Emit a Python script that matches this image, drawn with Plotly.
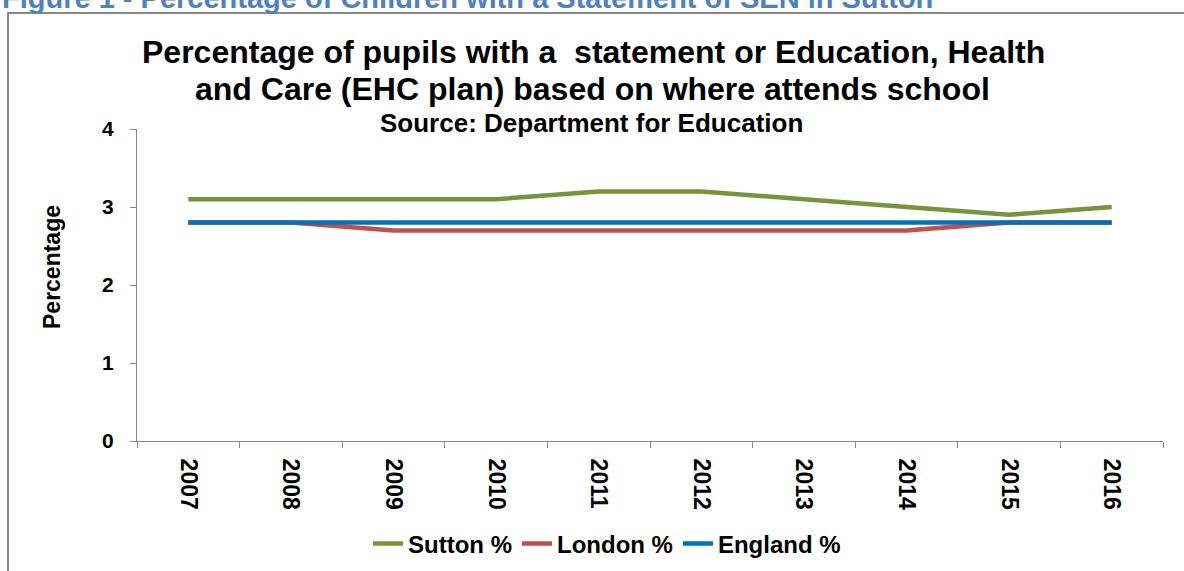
import plotly.graph_objects as go

years = ["2007", "2008", "2009", "2010", "2011", "2012", "2013", "2014", "2015", "2016"]
sutton = [3.1, 3.1, 3.1, 3.1, 3.2, 3.2, 3.1, 3.0, 2.9, 3.0]
london = [2.8, 2.8, 2.7, 2.7, 2.7, 2.7, 2.7, 2.7, 2.8, 2.8]
england = [2.8, 2.8, 2.8, 2.8, 2.8, 2.8, 2.8, 2.8, 2.8, 2.8]
y_ticks = [0, 1, 2, 3, 4]

FONT = "Liberation Sans, Arial, sans-serif"
W, H = 1184, 571
L, R, T, B = 137, 21, 129, 130
PW, PH = W - L - R, H - T - B

def px(x):
    return (x - L) / PW

def py(y):
    return (H - B - y) / PH

fig = go.Figure()
fig.add_trace(go.Scatter(x=years, y=sutton, name="Sutton %", mode="lines",
                         line=dict(color="#77933C", width=4.5)))
fig.add_trace(go.Scatter(x=years, y=london, name="London %", mode="lines",
                         line=dict(color="#C0504D", width=4.5)))
fig.add_trace(go.Scatter(x=years, y=england, name="England %", mode="lines",
                         line=dict(color="#0070C0", width=4.5)))

fig.update_layout(
    width=W, height=H,
    margin=dict(l=L, r=R, t=T, b=B, pad=0, autoexpand=False),
    paper_bgcolor="white", plot_bgcolor="white",
    font=dict(family=FONT, color="black"),
    showlegend=True,
    legend=dict(orientation="h", x=px(607), xanchor="center", y=py(544), yanchor="middle",
                font=dict(size=24, family=FONT, color="black", weight="bold"),
                bgcolor="rgba(0,0,0,0)", itemwidth=30, traceorder="normal"),
)
fig.update_xaxes(
    type="category", tickson="boundaries", ticks="outside", ticklen=6, tickcolor="#898989",
    showline=True, linecolor="#898989", linewidth=1, showgrid=False, zeroline=False,
    tickangle=90, tickfont=dict(size=23, family=FONT, color="black", weight="bold"),
    ticklabelstandoff=12, range=[-0.5, 9.5], automargin=False,
)
fig.update_yaxes(
    range=[0, 4], tickvals=y_ticks, ticks="outside", ticklen=6, tickcolor="#898989",
    showline=True, linecolor="#898989", linewidth=1, showgrid=False, zeroline=False,
    tickfont=dict(size=21, family=FONT, color="black", weight="bold"),
    ticklabelstandoff=12, automargin=False,
)

ann = [
    dict(text="<b>Figure 1 - Percentage of Children with a Statement of SEN in Sutton</b>",
         x=px(0), y=py(-2), xanchor="left", yanchor="middle",
         font=dict(size=29, color="#4F81BD", family=FONT)),
    dict(text="<b>Percentage of pupils with a  statement or Education, Health</b>",
         x=px(593), y=py(52), xanchor="center", yanchor="middle",
         font=dict(size=32, family=FONT)),
    dict(text="<b>and Care (EHC plan) based on where attends school</b>",
         x=px(592), y=py(89), xanchor="center", yanchor="middle",
         font=dict(size=32, family=FONT)),
    dict(text="<b>Source: Department for Education</b>",
         x=px(591), y=py(123), xanchor="center", yanchor="middle",
         font=dict(size=26, family=FONT)),
    dict(text="<b>Percentage</b>", textangle=-90,
         x=px(52), y=py(267), xanchor="center", yanchor="middle",
         font=dict(size=23, family=FONT)),
]
for a in ann:
    a.update(xref="paper", yref="paper", showarrow=False)
fig.update_layout(annotations=ann)

fig.add_shape(type="rect", xref="paper", yref="paper",
              x0=px(8), x1=px(1200), y0=py(600), y1=py(13),
              line=dict(color="#888888", width=2), fillcolor="rgba(0,0,0,0)", layer="below")

fig.write_html("out.html")
